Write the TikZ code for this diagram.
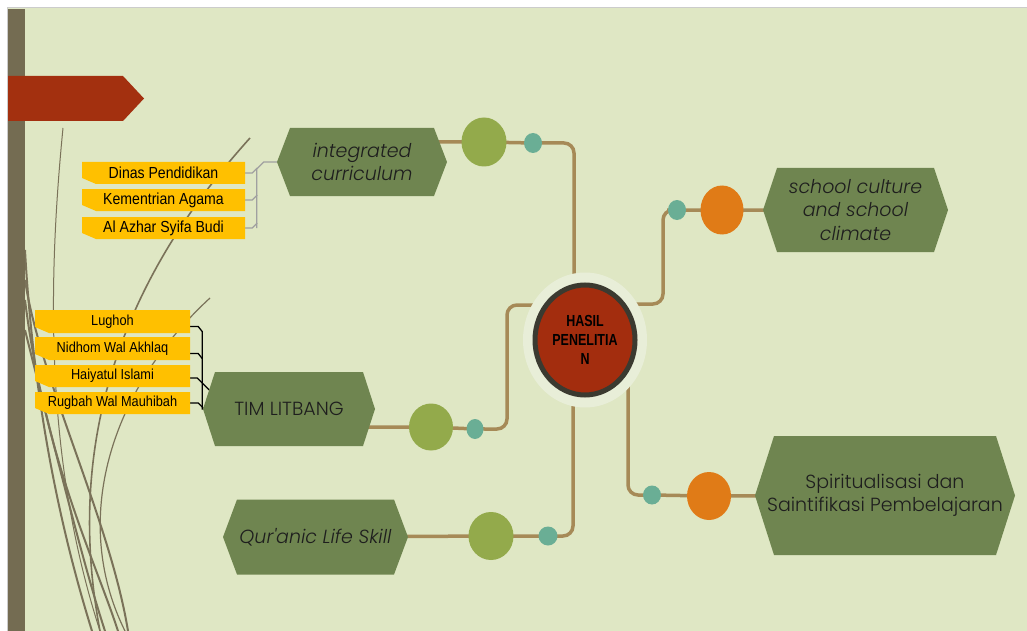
\documentclass[tikz,border=0pt]{standalone}
\usepackage{fontspec}
\setmainfont{Liberation Sans}
\newfontfamily\gothic[UprightFont=* Light, ItalicFont=* Light Italic]{Poppins}
\newfontfamily\narrowf[FakeStretch=0.88]{Liberation Sans}
\newfontfamily\hasilf[FakeStretch=0.78]{Liberation Sans}
\usetikzlibrary{shapes.geometric}
\pgfdeclarelayer{bglayer}
\pgfdeclarelayer{connlayer}
\pgfsetlayers{bglayer,connlayer,main}
\definecolor{bgc}{HTML}{DFE7C4}
\definecolor{barc}{HTML}{746C52}
\definecolor{arrowc}{HTML}{A3300F}
\definecolor{ylw}{HTML}{FFC000}
\definecolor{hexc}{HTML}{6F8550}
\definecolor{connc}{HTML}{A68A57}
\definecolor{gcirc}{HTML}{93AA4B}
\definecolor{tcirc}{HTML}{6AAE95}
\definecolor{ocirc}{HTML}{E07B17}
\definecolor{hubred}{HTML}{A32D0E}
\definecolor{hubring}{HTML}{3B3A30}
\definecolor{haloc}{HTML}{E8EED8}
\definecolor{curvec}{HTML}{7A7259}
\definecolor{txtc}{HTML}{1E1E1E}
\definecolor{grayb}{HTML}{A0A0A0}
\tikzset{
  lbl/.style={inner sep=0pt, text=black},
  hextext/.style={inner sep=0pt, text=txtc, align=center, font=\gothic\fontsize{19}{23.5}\selectfont},
  conn/.style={draw=connc, line width=3.5pt, rounded corners=10pt},
  gdot/.style={ellipse, fill=gcirc, inner sep=0pt},
  tdot/.style={ellipse, fill=tcirc, inner sep=0pt},
  odot/.style={ellipse, fill=ocirc, inner sep=0pt},
  gbr/.style={draw=grayb, line width=1.2pt},
  bbr/.style={draw=black, line width=1.3pt},
  curve/.style={draw=curvec, line width=2pt},
  thincurve/.style={draw=curvec, line width=1pt},
}
% name, x1, x2, y1, y2, font, text
\newcommand\ylab[7]{%
  \fill[ylw] (#2,#4) -- (#3,#4) -- (#3,#5) -- ({#2+14},#5) -- (#2,{#5-6}) -- cycle;
  \node[lbl, minimum width={(#3-#2)*1pt}, minimum height={(#5-#4)*1pt}, font=#6] (#1) at ({(#2+#3)/2},{(#4+#5)/2}) {#7};}
% name, cx, cy, hw, hh, d, text
\newcommand\hexa[7]{%
  \fill[hexc] ({#2-#4},#3) -- ({#2-#4+#6},{#3-#5}) -- ({#2+#4-#6},{#3-#5}) -- ({#2+#4},#3) -- ({#2+#4-#6},{#3+#5}) -- ({#2-#4+#6},{#3+#5}) -- cycle;
  \node[hextext, minimum width={2*#4*1pt}, minimum height={2*#5*1pt}] (#1) at (#2,#3) {#7};}
\begin{document}
\begin{tikzpicture}[x=1pt,y=-1pt]
\useasboundingbox (0,0) rectangle (1027,631);
\begin{pgfonlayer}{bglayer}
  \fill[white] (0,0) rectangle (1027,631);
  \fill[bgc] (7,8) rectangle (1027,631);
  \draw[draw=black!20, line width=1pt] (7,631) -- (7,8) -- (1027,8);
  % decorative curves
  \draw[thincurve] (63,128) .. controls (46,300) and (48,470) .. (100,631);
  \draw[curve, line width=1.6pt] (250,138) .. controls (140,260) and (60,420) .. (100,631);
  \draw[thincurve, line width=1.2pt] (210,298) .. controls (110,390) and (70,520) .. (125,631);
  \draw[curve] (25,250) .. controls (35,430) and (70,560) .. (92,631);
  \draw[curve] (25,300) .. controls (45,460) and (95,560) .. (118,631);
  \draw[curve] (25,330) .. controls (60,470) and (85,570) .. (105,631);
  \draw[curve] (25,280) .. controls (40,380) and (110,520) .. (128,631);
  \fill[barc] (8,9) rectangle (25,631);
  \fill[arrowc] (8,76) -- (123,76) -- (144,98.5) -- (123,121) -- (8,121) -- cycle;
\end{pgfonlayer}

% yellow labels
\ylab{dinas}{82}{245}{162}{184}{\narrowf\fontsize{16}{18}\selectfont}{Dinas Pendidikan}
\ylab{kemen}{82}{245}{189}{211}{\narrowf\fontsize{16}{18}\selectfont}{Kementrian Agama}
\ylab{azhar}{82}{245}{217}{239}{\narrowf\fontsize{16}{18}\selectfont}{Al Azhar Syifa Budi}
\ylab{lug}{35}{190}{310}{333}{\narrowf\fontsize{14.5}{16}\selectfont}{Lughoh}
\ylab{nid}{35}{190}{337}{360}{\narrowf\fontsize{14.5}{16}\selectfont}{Nidhom Wal Akhlaq}
\ylab{hai}{35}{190}{365}{387}{\narrowf\fontsize{14.5}{16}\selectfont}{Haiyatul Islami}
\ylab{rug}{35}{190}{392}{414}{\narrowf\fontsize{14.5}{16}\selectfont}{Rugbah Wal Mauhibah}

% hexagons
\hexa{ic}{362}{162}{85}{34}{13}{\itshape integrated\\\itshape curriculum}
\hexa{tim}{289}{409}{86}{37}{12}{TIM LITBANG}
\hexa{qur}{315.5}{537}{92.5}{37.5}{14}{\itshape Qur'anic Life Skill}
\hexa{sc}{855.5}{210}{92.5}{42}{14}{\itshape school culture\\\itshape and school\\\itshape climate}
\hexa{sp}{885}{495.5}{130}{59.5}{19}{Spiritualisasi dan\\Saintifikasi Pembelajaran}

% center hub
\node[ellipse, fill=haloc, minimum width=124pt, minimum height=135pt, inner sep=0pt] (halo) at (585,340) {};
\node[ellipse, fill=hubred, draw=hubring, line width=5pt, minimum width=100pt, minimum height=110pt, inner sep=0pt,
      align=center, font=\hasilf\bfseries\fontsize{16}{19}\selectfont, text=black] (hub) at (585,340) {HASIL\\PENELITIA\\N};

% dots
\node[gdot, minimum width=45pt, minimum height=49pt] (g1) at (484,142) {};
\node[tdot, minimum width=18pt, minimum height=20pt] (t1) at (533,143) {};
\node[gdot, minimum width=44pt, minimum height=47pt] (g2) at (431,427) {};
\node[tdot, minimum width=17pt, minimum height=20pt] (t2) at (475,429) {};
\node[gdot, minimum width=45pt, minimum height=48pt] (g3) at (491,536) {};
\node[tdot, minimum width=19pt, minimum height=19pt] (t3) at (548,536) {};
\node[tdot, minimum width=18pt, minimum height=20pt] (t4) at (677,210) {};
\node[odot, minimum width=43pt, minimum height=49pt] (o1) at (722,210) {};
\node[tdot, minimum width=18pt, minimum height=19pt] (t5) at (652,495) {};
\node[odot, minimum width=44pt, minimum height=48pt] (o2) at (709,496) {};

\begin{pgfonlayer}{connlayer}
  \draw[conn] (ic.center |- g1.center) -- (g1.center) -- (t1.center) -| ([xshift=-11pt]halo.center);
  \draw[conn] (tim.center |- g2.center) -- (g2.center) -- (t2.center) -- ++(32,0) |- ([yshift=35pt]halo.center);
  \draw[conn] (qur.center) -- (g3.center) -- (t3.center) -| ([xshift=-12pt]halo.center);
  \draw[conn] ([yshift=36pt]halo.center) -- ++(78,0) |- (t4.center) -- (o1.center) -- (sc.center);
  \draw[conn] ([xshift=43pt]halo.center) |- (t5.center) -- (o2.center) -- (sp.center);
  % gray bracket
  \draw[gbr] (ic.west) -- ++(-13,0) -- ++(-7,7) coordinate (gtop) -- (gtop |- azhar.east);
  \draw[gbr] (dinas.east) -- ++(7,0) -- ++(5,-5);
  \draw[gbr] (kemen.east) -- ++(7,0) -- ++(5,-5);
  \draw[gbr] (azhar.east) -- ++(7,0) -- ++(5,-5);
  % black bracket
  \draw[bbr] ([yshift=-5pt]lug.east) -- ++(8,0) -- ++(4,5) coordinate (btop) -- (btop |- tim.west) -- (tim.west);
  \draw[bbr] ([yshift=-5pt]nid.east) -- ++(8,0) -- ++(4,5);
  \draw[bbr] ([yshift=-2pt]hai.east) -- ++(7,0) -- ++(12,12);
  \draw[bbr] (rug.east) -- ++(8,0) -- ++(5,5);
\end{pgfonlayer}
\end{tikzpicture}
\end{document}
